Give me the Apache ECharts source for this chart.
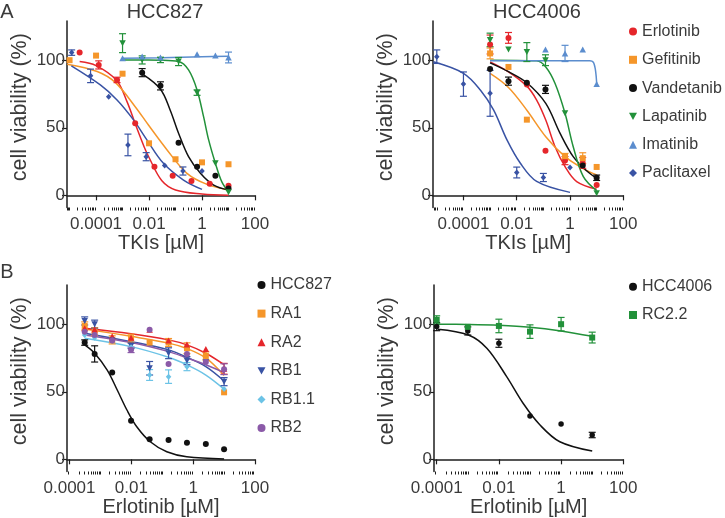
<!DOCTYPE html>
<html><head><meta charset="utf-8">
<script src="https://cdn.jsdelivr.net/npm/echarts@6/dist/echarts.min.js"></script>
<style>html,body{margin:0;padding:0;background:#fff}#c{width:725px;height:518px}</style>
</head><body><div id="c"></div>
<script>
// ---------- tick labels ----------
const X_MAJOR = [0.0001, 0.01, 1, 100];
const Y_MAJOR = [0, 50, 100];
const PANEL_TITLES = ['HCC827', 'HCC4006'];
const DRUGS = ['Erlotinib', 'Gefitinib', 'Vandetanib', 'Lapatinib', 'Imatinib', 'Paclitaxel'];
const LINES_B1 = ['HCC827', 'RA1', 'RA2', 'RB1', 'RB1.1', 'RB2'];
const LINES_B2 = ['HCC4006', 'RC2.2'];

// ---------- Panel A, HCC827 (TKIs, µM) ----------
const A1_ERL_X = [2.4e-5, 1.26e-4, 6.2e-4, 0.003, 0.016, 0.078, 0.4, 1.95, 10];
const A1_ERL_Y = [105.6, 96.5, 85.4, 53.3, 21.2, 14.5, 10.6, 8.6, 7.1];
const A1_ERL_E = [0, 3, 2, 0, 0, 0, 0, 0, 0];
const A1_ERL_FX = [2.4e-5, 1e-4, 6e-4, 0.0015, 0.003, 0.0065, 0.01, 0.03, 0.1, 1, 10];
const A1_ERL_FY = [99, 96, 85, 69, 53, 36, 28, 11, 4, 1, 0];

const A1_GEF_X = [1e-5, 1e-4, 1e-3, 0.01, 0.1, 1, 10];
const A1_GEF_Y = [100, 103.4, 90, 38.5, 26.7, 24.4, 23];
const A1_GEF_E = [0, 0, 0, 0, 0, 0, 0];
const A1_GEF_FX = [8.1e-6, 1.1e-4, 5.4e-4, 0.003, 0.0095, 0.048, 0.27, 1.55, 10];
const A1_GEF_FY = [97, 91.6, 83.4, 65.6, 52, 33.6, 16.3, 8.1, 4];

const A1_VAN_X = [0.0055, 0.027, 0.13, 0.65, 3.2, 10];
const A1_VAN_Y = [90.8, 81, 39, 21.2, 14.5, 5];
const A1_VAN_E = [3, 3, 0, 0, 0, 0];
const A1_VAN_FX = [0.0055, 0.027, 0.063, 0.13, 0.31, 0.87, 2.75, 10];
const A1_VAN_FY = [89.8, 78.5, 63, 46, 28.6, 16.3, 7.6, 4];

const A1_LAP_X = [0.001, 0.0055, 0.027, 0.13, 0.65, 3.2, 10];
const A1_LAP_Y = [112.6, 100.2, 100.2, 99, 76, 23.7, 2.2];
const A1_LAP_E = [7, 3, 2, 3, 2, 0, 0];
const A1_LAP_FX = [0.00095, 0.0055, 0.027, 0.13, 0.31, 0.65, 1.15, 1.78, 3.2, 5.6, 10];
const A1_LAP_FY = [100.2, 100.1, 100, 99, 92.8, 78, 58, 41, 23.7, 10, 2.7];

const A1_IMA_X = [0.001, 0.0055, 0.027, 0.65, 3.2, 10];
const A1_IMA_Y = [101.5, 102.7, 102, 104.4, 103.4, 102];
const A1_IMA_E = [0, 0, 0, 0, 0, 4];
const A1_IMA_FX = [0.00095, 0.03, 1, 10];
const A1_IMA_FY = [101.4, 101.8, 102.5, 103];

const A1_PAC_X = [1.2e-5, 6.2e-5, 3e-4, 0.0016, 0.0078, 0.039, 0.19, 1];
const A1_PAC_Y = [105.6, 88.4, 73, 37.3, 28.6, 22, 18, 18];
const A1_PAC_E = [2, 5, 0, 8, 3, 0, 3, 0];
const A1_PAC_FX = [1.17e-5, 1.45e-4, 6.2e-4, 2.6e-3, 8.3e-3, 0.035, 0.2, 1];
const A1_PAC_FY = [95.8, 81.7, 70.6, 55.8, 41, 23.7, 11.3, 4.4];

// ---------- Panel A, HCC4006 ----------
const A2_ERL_X = [0.001, 0.0049, 0.024, 0.12, 0.65, 3.0, 10];
const A2_ERL_Y = [111.6, 116.5, 82, 33, 25.7, 24, 7.7];
const A2_ERL_E = [7, 4, 0, 0, 3, 4, 0];
const A2_ERL_FX = [0.001, 0.0049, 0.024, 0.056, 0.123, 0.275, 0.65, 1.78, 10];
const A2_ERL_FY = [98.8, 91.4, 80.8, 70.5, 55.7, 36, 21.3, 10.2, 4.6];

const A2_GEF_X = [0.001, 0.0049, 0.024, 0.65, 3.0, 10];
const A2_GEF_Y = [105, 95, 56, 29, 27.5, 21];
const A2_GEF_E = [4, 0, 0, 2, 4, 0];
const A2_GEF_FX = [0.001, 0.0049, 0.024, 0.123, 0.65, 3.0, 10];
const A2_GEF_FY = [90.2, 79.8, 63, 43.4, 28.6, 20, 15.1];

const A2_VAN_X = [0.001, 0.0049, 0.024, 0.12, 3.0, 10];
const A2_VAN_Y = [93.4, 84.5, 83.3, 78.4, 22, 13];
const A2_VAN_E = [0, 3, 0, 3, 0, 2];
const A2_VAN_FX = [0.001, 0.0049, 0.024, 0.123, 0.42, 1.32, 4.3, 10];
const A2_VAN_FY = [98, 91.5, 83.3, 68, 46, 28.6, 18, 12.5];

const A2_LAP_X = [0.001, 0.0049, 0.024, 0.12, 0.65, 10];
const A2_LAP_Y = [115, 108, 106, 100, 60.7, 1.6];
const A2_LAP_E = [5, 0, 7, 4, 0, 0];
const A2_LAP_FX = [0.001, 0.056, 0.123, 0.275, 0.65, 1.32, 3.16, 10];
const A2_LAP_FY = [100, 99.5, 95, 82.8, 60.7, 36, 13.9, 3.5];

const A2_IMA_X = [0.12, 0.65, 3.0, 10];
const A2_IMA_Y = [108, 105, 108, 82.3];
const A2_IMA_E = [0, 6, 0, 0];
const A2_IMA_FX = [0.001, 5.5, 7.5, 8.8, 9.6, 10];
const A2_IMA_FY = [99.5, 99.5, 98.5, 94, 88, 83];

const A2_PAC_X = [1e-5, 1e-4, 0.001, 0.01, 0.1, 1];
const A2_PAC_Y = [102.6, 82.3, 75.5, 16.9, 13.2, 20.6];
const A2_PAC_E = [5, 9, 17, 4, 3, 0];
const A2_PAC_FX = [7.4e-6, 1e-4, 4.3e-4, 1.35e-3, 4.3e-3, 0.0135, 0.056, 1];
const A2_PAC_FY = [98.8, 90.3, 78, 63.2, 41, 23.9, 10.3, 2.2];

// ---------- Panel B, HCC827 lines (Erlotinib, µM) ----------
const B1_X = [3.1e-4, 6.5e-4, 2.4e-3, 9.8e-3, 0.039, 0.16, 0.63, 2.57, 10];
const B1_HCC_Y = [86.4, 78, 64.2, 28.6, 14.8, 14.3, 12.3, 11.3, 7.4];
const B1_HCC_E = [2, 6, 0, 0, 0, 0, 0, 0, 0];
const B1_RA1_Y = [98.7, 94.5, 88.4, 89.6, 86.4, 86.4, 82.2, 76.5, 49.6];
const B1_RA1_E = [3, 3, 3, 3, 0, 3, 4, 3, 0];
const B1_RA2_Y = [97, 96, 91, 90, 95.8, 88, 85, 81.7, 67];
const B1_RA2_E = [0, 0, 0, 0, 0, 0, 0, 0, 4];
const B1_RB1_Y = [102.4, 100, 88, 84, 67.4, 78.5, 73, 71.8, 57.5];
const B1_RB1_E = [3, 3, 0, 2, 5, 4, 3, 0, 3];
const B1_RB11_Y = [92, 90, 88, 83, 62.4, 61.2, 68.6, 72, 52];
const B1_RB11_E = [0, 0, 0, 0, 4, 5, 3, 0, 0];
const B1_RB2_Y = [94.5, 92, 88, 81, 95.8, 70.6, 78, 72, 66.7];
const B1_RB2_E = [0, 0, 0, 2, 0, 0, 0, 0, 4];
const B1_HCC_FX = [3.1e-4, 6.5e-4, 1.66e-3, 3.5e-3, 7.2e-3, 0.015, 0.041, 0.14, 0.62, 10];
const B1_HCC_FY = [84.7, 78.5, 66, 51.3, 36.5, 24.1, 13, 5.6, 1.9, 0.3];
const B1_FX = [3.1e-4, 9.8e-3, 0.16, 0.63, 2.57, 10];
const B1_RA1_FY = [96.5, 91, 86, 82, 75, 62];
const B1_RA2_FY = [97, 93, 88.4, 84.7, 78.5, 70];
const B1_RB1_FY = [93.3, 87.1, 81, 75.5, 68.6, 58];
const B1_RB11_FY = [89.6, 83.4, 75.5, 69.9, 62.4, 52];
const B1_RB2_FY = [92, 86.4, 79.7, 75, 70, 64.2];

// ---------- Panel B, HCC4006 lines ----------
const B2_X = [1e-4, 1e-3, 0.01, 0.1, 1, 10];
const B2_HCC_Y = [98.2, 95, 85.9, 32.1, 26.1, 18];
const B2_HCC_E = [3, 3, 3, 0, 0, 2];
const B2_RC_Y = [103.2, 98, 98.7, 94.5, 100, 90.1];
const B2_RC_E = [3, 0, 5, 5, 5, 4];
const B2_HCC_FX = [1.07e-4, 1.05e-3, 4.1e-3, 0.0178, 0.06, 0.21, 0.91, 10];
const B2_HCC_FY = [96.3, 92, 82.2, 61.2, 41.5, 25.4, 13, 6.1];
const B2_RC_FX = [1e-4, 1e-3, 0.01, 0.1, 1, 10];
const B2_RC_FY = [100, 99.8, 99.2, 97.8, 95, 91];

// ---------- styling ----------
const FONT = 'Liberation Sans, Arial, sans-serif';
const TXT = '#3a3a3a';
const AX = '#1e1e1e';
const C = {red:'#e5262b', orange:'#f5962a', black:'#111111', green:'#22913a',
           lblue:'#5b8dce', dblue:'#3953a4', cyan:'#6cc3e6', purple:'#8b5aa8'};
const DOWN = 'path://M0,0L10,0L5,9Z';

const GRIDS = [
  {left:67, top:21, width:188, height:186.5},
  {left:433, top:21, width:190.3, height:186.5},
  {left:67, top:285, width:188, height:186.5},
  {left:434, top:285, width:189.3, height:186.5}
];
const XMIN = [8e-6, 7.2e-6, 8.3e-5, 8.2e-5];
const XNAMES = ['TKIs [µM]', 'TKIs [µM]', 'Erlotinib [µM]', 'Erlotinib [µM]'];

function minorTicks(lo, hi) {
  const out = [];
  for (let k = -7; k <= 2; k++) {
    for (let m = 1; m <= 9; m++) {
      const v = +(m * Math.pow(10, k)).toPrecision(6);
      if (v >= lo && v <= hi && X_MAJOR.indexOf(v) < 0) out.push(v);
    }
  }
  return out;
}

const xAxis = [], yAxis = [];
GRIDS.forEach((g, i) => {
  xAxis.push({
    type:'log', logBase:10, gridIndex:i, min:XMIN[i], max:100, position:'bottom',
    name:XNAMES[i], nameLocation:'middle', nameGap:22,
    nameTextStyle:{fontSize:20, color:TXT, fontFamily:FONT},
    axisLine:{show:true, lineStyle:{color:AX, width:1.5}},
    axisTick:{show:true, customValues:X_MAJOR, length:5, lineStyle:{color:AX, width:1.2}},
    axisLabel:{show:true, customValues:X_MAJOR, margin:8, fontSize:17, color:TXT, fontFamily:FONT,
      formatter:v => String(v)},
    splitLine:{show:false}, minorTick:{show:false}, minorSplitLine:{show:false}
  });
  xAxis.push({
    type:'log', logBase:10, gridIndex:i, min:XMIN[i], max:100, position:'bottom', offset:0,
    axisLine:{show:false},
    axisTick:{show:true, customValues:minorTicks(XMIN[i], 100), length:3, lineStyle:{color:AX, width:1}},
    axisLabel:{show:false}, splitLine:{show:false}
  });
  yAxis.push({
    type:'value', gridIndex:i, min:-9, max:129,
    name:'cell viability (%)', nameLocation:'middle', nameGap:36,
    nameTextStyle:{fontSize:21.5, color:TXT, fontFamily:FONT, padding:[0,0,0,14]},
    axisLine:{show:true, lineStyle:{color:AX, width:1.5}},
    axisTick:{show:true, customValues:Y_MAJOR, length:5, lineStyle:{color:AX, width:1.2}},
    axisLabel:{show:true, customValues:Y_MAJOR, margin:2, fontSize:17, color:TXT, fontFamily:FONT},
    splitLine:{show:false}
  });
});

const series = [];
function zip(xs, ys) { return xs.map((x, i) => [x, ys[i]]); }
function errItem(color) {
  return function (params, api) {
    const x = api.value(0), y = api.value(1), e = api.value(2);
    const t = api.coord([x, y + e]), b = api.coord([x, y - e]);
    const w = 3.5, st = {stroke:color, lineWidth:1.2};
    return {type:'group', children:[
      {type:'line', shape:{x1:t[0], y1:t[1], x2:b[0], y2:b[1]}, style:st},
      {type:'line', shape:{x1:t[0]-w, y1:t[1], x2:t[0]+w, y2:t[1]}, style:st},
      {type:'line', shape:{x1:b[0]-w, y1:b[1], x2:b[0]+w, y2:b[1]}, style:st}
    ]};
  };
}
function addSet(p, name, color, symbol, size, xs, ys, es, fx, fy, smooth) {
  series.push({
    name:name + ' fit', type:'line', xAxisIndex:2*p, yAxisIndex:p, data:zip(fx, fy),
    showSymbol:false, symbol:'none', smooth:smooth === undefined ? 0.35 : smooth,
    lineStyle:{color:color, width:1.5}, z:2, silent:true
  });
  if (es) {
    const ed = xs.map((x, i) => [x, ys[i], es[i]]).filter(d => d[2] > 0);
    series.push({
      name:name + ' err', type:'custom', xAxisIndex:2*p, yAxisIndex:p, data:ed,
      encode:{x:0, y:1}, renderItem:errItem(color), z:3, silent:true
    });
  }
  series.push({
    name:name, type:'scatter', xAxisIndex:2*p, yAxisIndex:p, data:zip(xs, ys),
    symbol:symbol, symbolSize:size, itemStyle:{color:color, opacity:1}, z:4
  });
}

// Panel A HCC827
addSet(0, 'Erlotinib', C.red, 'circle', 6, A1_ERL_X, A1_ERL_Y, A1_ERL_E, A1_ERL_FX, A1_ERL_FY);
addSet(0, 'Gefitinib', C.orange, 'rect', 6, A1_GEF_X, A1_GEF_Y, A1_GEF_E, A1_GEF_FX, A1_GEF_FY);
addSet(0, 'Vandetanib', C.black, 'circle', 6, A1_VAN_X, A1_VAN_Y, A1_VAN_E, A1_VAN_FX, A1_VAN_FY);
addSet(0, 'Lapatinib', C.green, DOWN, [6.5, 6], A1_LAP_X, A1_LAP_Y, A1_LAP_E, A1_LAP_FX, A1_LAP_FY);
addSet(0, 'Imatinib', C.lblue, 'triangle', [6.5, 6], A1_IMA_X, A1_IMA_Y, A1_IMA_E, A1_IMA_FX, A1_IMA_FY);
addSet(0, 'Paclitaxel', C.dblue, 'diamond', [5.5, 6], A1_PAC_X, A1_PAC_Y, A1_PAC_E, A1_PAC_FX, A1_PAC_FY);
// Panel A HCC4006
addSet(1, 'Erlotinib', C.red, 'circle', 6, A2_ERL_X, A2_ERL_Y, A2_ERL_E, A2_ERL_FX, A2_ERL_FY);
addSet(1, 'Gefitinib', C.orange, 'rect', 6, A2_GEF_X, A2_GEF_Y, A2_GEF_E, A2_GEF_FX, A2_GEF_FY);
addSet(1, 'Vandetanib', C.black, 'circle', 6, A2_VAN_X, A2_VAN_Y, A2_VAN_E, A2_VAN_FX, A2_VAN_FY);
addSet(1, 'Lapatinib', C.green, DOWN, [6.5, 6], A2_LAP_X, A2_LAP_Y, A2_LAP_E, A2_LAP_FX, A2_LAP_FY);
addSet(1, 'Imatinib', C.lblue, 'triangle', [6.5, 6], A2_IMA_X, A2_IMA_Y, A2_IMA_E, A2_IMA_FX, A2_IMA_FY, 0.2);
addSet(1, 'Paclitaxel', C.dblue, 'diamond', [5.5, 6], A2_PAC_X, A2_PAC_Y, A2_PAC_E, A2_PAC_FX, A2_PAC_FY);
// Panel B HCC827 lines
addSet(2, 'HCC827', C.black, 'circle', 6, B1_X, B1_HCC_Y, B1_HCC_E, B1_HCC_FX, B1_HCC_FY);
addSet(2, 'RA1', C.orange, 'rect', 6, B1_X, B1_RA1_Y, B1_RA1_E, B1_FX, B1_RA1_FY);
addSet(2, 'RA2', C.red, 'triangle', [6.5, 6], B1_X, B1_RA2_Y, B1_RA2_E, B1_FX, B1_RA2_FY);
addSet(2, 'RB1', C.dblue, DOWN, [6.5, 6], B1_X, B1_RB1_Y, B1_RB1_E, B1_FX, B1_RB1_FY);
addSet(2, 'RB1.1', C.cyan, 'diamond', [5.5, 6], B1_X, B1_RB11_Y, B1_RB11_E, B1_FX, B1_RB11_FY);
addSet(2, 'RB2', C.purple, 'circle', 6, B1_X, B1_RB2_Y, B1_RB2_E, B1_FX, B1_RB2_FY);
// Panel B HCC4006 lines
addSet(3, 'HCC4006', C.black, 'circle', 5.5, B2_X, B2_HCC_Y, B2_HCC_E, B2_HCC_FX, B2_HCC_FY);
addSet(3, 'RC2.2', C.green, 'rect', 6, B2_X, B2_RC_Y, B2_RC_E, B2_RC_FX, B2_RC_FY);

const legendBase = {orient:'vertical', itemWidth:8, itemHeight:8, padding:0, selectedMode:false,
  textStyle:{fontSize:16, lineHeight:16, color:TXT, fontFamily:FONT}, itemStyle:{borderWidth:0}};
const legend = [
  Object.assign({}, legendBase, {data:DRUGS, left:629, top:23.5, itemGap:12.3}),
  Object.assign({}, legendBase, {data:LINES_B1, left:257.5, top:277, itemGap:12.6}),
  Object.assign({}, legendBase, {data:LINES_B2, left:629, top:278.7, itemGap:12.3})
];

function txt(x, y, s, size) {
  return {type:'text', x:x, y:y, silent:true,
    style:{text:s, fill:TXT, font:size + 'px ' + FONT, align:'center', verticalAlign:'middle',
           textAlign:'center', textVerticalAlign:'middle'}};
}
const graphic = [
  txt(7, 12, 'A', 20), txt(7, 272, 'B', 20),
  txt(165, 12, PANEL_TITLES[0], 20), txt(537, 12, PANEL_TITLES[1], 20)
];

const chart = echarts.init(document.getElementById('c'), null, {renderer:'canvas'});
chart.setOption({
  animation:false, backgroundColor:'#ffffff',
  grid:GRIDS.map(g => Object.assign({containLabel:false, outerBoundsMode:'none'}, g)),
  xAxis:xAxis, yAxis:yAxis, legend:legend, graphic:graphic, series:series,
  tooltip:{show:false}
});
</script></body></html>
